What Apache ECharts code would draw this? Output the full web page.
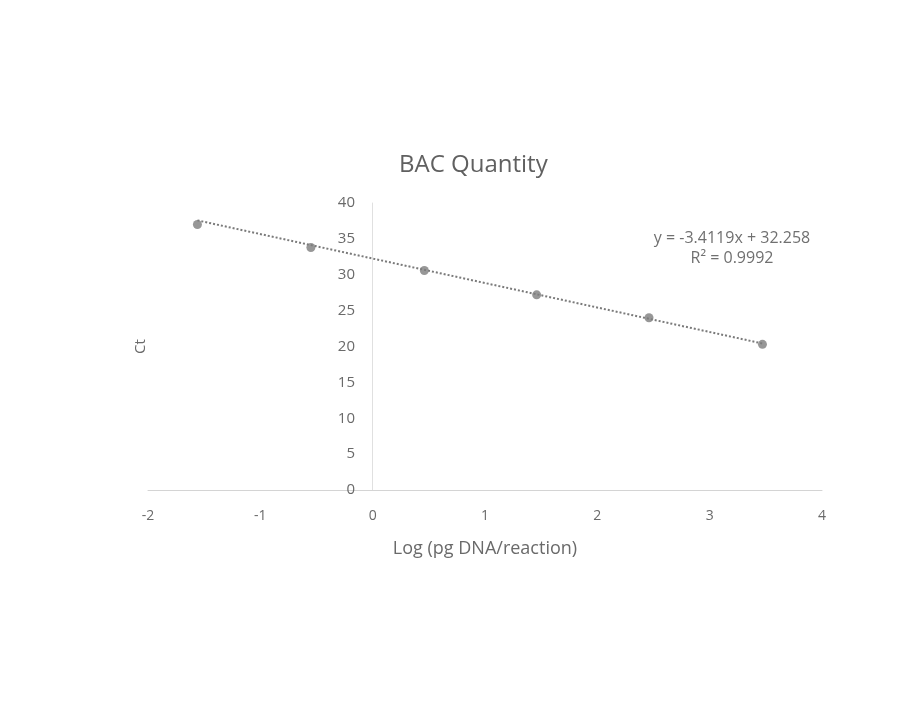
<!DOCTYPE html>
<html>
<head>
<meta charset="utf-8">
<script src="https://cdn.jsdelivr.net/npm/echarts@6/dist/echarts.min.js"></script>
<style>html,body{margin:0;padding:0;background:#fff;}#c{width:902px;height:716px;}</style>
</head>
<body>
<div id="c"></div>
<script>
var logDNA = [-1.56, -0.55, 0.46, 1.46, 2.46, 3.47];
var ctValues = [37.0, 33.8, 30.6, 27.2, 24.0, 20.3];
var trendSlope = [-3.4119];
var trendIntercept = [32.258];
var rSquared = ['0.9992'];
var xTicks = [-2, -1, 0, 1, 2, 3, 4];
var yTicks = [0, 5, 10, 15, 20, 25, 30, 35, 40];

var points = logDNA.map(function (x, i) { return [x, ctValues[i]]; });
var xMin = Math.min.apply(null, logDNA), xMax = Math.max.apply(null, logDNA);
var trend = [xMin, xMax].map(function (x) { return [x, trendSlope[0] * x + trendIntercept[0]]; });

var FONT = '"Open Sans", "Noto Sans", sans-serif';
var TXT = '#6a6a6a';
var chart = echarts.init(document.getElementById('c'));
chart.setOption({
  backgroundColor: '#fff',
  animation: false,
  title: {
    text: 'BAC Quantity', left: 394, top: 148,
    textStyle: { fontFamily: FONT, fontSize: 24, fontWeight: 'normal', color: '#606060' }
  },
  grid: { left: 148, right: 80, top: 203, bottom: 226, containLabel: false, outerBoundsMode: 'none' },
  xAxis: {
    type: 'value', min: xTicks[0], max: xTicks[xTicks.length - 1], interval: 1,
    name: 'Log (pg DNA/reaction)', nameLocation: 'middle', nameGap: 50,
    nameTextStyle: { fontFamily: FONT, fontSize: 18, color: TXT },
    axisLine: { onZero: true, lineStyle: { color: '#d4d4d4', width: 1 } },
    axisTick: { show: false },
    splitLine: { show: false },
    axisLabel: { margin: 19, fontFamily: FONT, fontSize: 14, color: TXT }
  },
  yAxis: {
    type: 'value', min: yTicks[0], max: yTicks[yTicks.length - 1], interval: 5,
    name: 'Ct', nameLocation: 'middle', nameGap: 0, nameRotate: 90,
    nameTextStyle: { fontFamily: FONT, fontSize: 15, color: TXT },
    axisLine: { show: true, onZero: true, lineStyle: { color: '#e0e0e0', width: 1 } },
    axisTick: { show: false },
    splitLine: { show: false },
    axisLabel: { margin: -207, fontFamily: FONT, fontSize: 15, color: TXT }
  },
  graphic: [
    { type: 'text', x: 732, y: 238, style: { text: 'y = ' + trendSlope[0] + 'x + ' + trendIntercept[0], font: '16px ' + FONT, fill: '#707070', align: 'center', verticalAlign: 'middle' } },
    { type: 'text', x: 732, y: 258, style: { text: 'R\u00b2 = ' + rSquared[0], font: '16px ' + FONT, fill: '#707070', align: 'center', verticalAlign: 'middle' } }
  ],
  series: [
    {
      type: 'line', data: trend, showSymbol: false, symbol: 'none',
      lineStyle: { color: '#7a7a7a', width: 2, type: [2, 2] }, z: 2, silent: true
    },
    {
      type: 'scatter', data: points, symbol: 'circle', symbolSize: 9,
      itemStyle: { color: '#7d7d7d' }, z: 3
    }
  ]
});
</script>
</body>
</html>
